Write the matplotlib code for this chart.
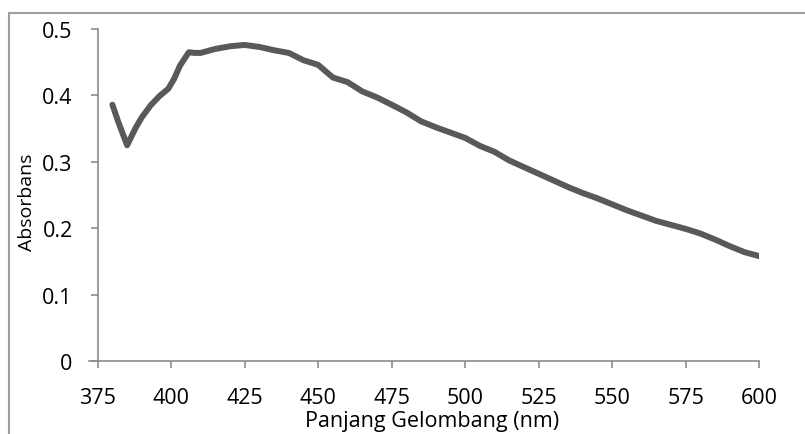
import matplotlib
matplotlib.use('Agg')
import matplotlib.pyplot as plt
from matplotlib.patches import Rectangle

# Absorbance spectrum
wavelength = [380, 382, 385, 388, 390, 393, 396, 399, 401, 403, 406, 408, 410,
              415, 420, 425, 430, 435, 440, 445, 450, 455, 460, 465, 470, 475,
              480, 485, 490, 495, 500, 505, 510, 515, 520, 525, 530, 535, 540,
              545, 550, 555, 560, 565, 570, 575, 580, 585, 590, 595, 600]
absorbans = [0.386, 0.360, 0.325, 0.352, 0.367, 0.385, 0.399, 0.410, 0.425,
             0.445, 0.465, 0.464, 0.464, 0.470, 0.474, 0.476, 0.473, 0.468,
             0.464, 0.453, 0.446, 0.427, 0.420, 0.406, 0.397, 0.386, 0.3745,
             0.361, 0.352, 0.344, 0.336, 0.324, 0.315, 0.302, 0.292, 0.282,
             0.272, 0.262, 0.253, 0.245, 0.236, 0.227, 0.219, 0.211, 0.205,
             0.199, 0.192, 0.183, 0.173, 0.164, 0.158]

x_ticks = [375, 400, 425, 450, 475, 500, 525, 550, 575, 600]
y_ticks = [0, 0.1, 0.2, 0.3, 0.4, 0.5]
y_ticklabels = ['0', '0.1', '0.2', '0.3', '0.4', '0.5']

plt.rcParams['font.family'] = ['Open Sans', 'DejaVu Sans']

fig = plt.figure(figsize=(8.05, 4.35), dpi=100)
ax = fig.add_axes([0.1214, 0.1678, 0.8216, 0.7632])

# outer chart frame (cropped on the right and bottom)
fig.patches.append(Rectangle((9 / 805, -0.05), 1.0, 1 - 14 / 435 + 0.05,
                             transform=fig.transFigure, fill=False,
                             edgecolor='#a0a0a0', linewidth=1.5))

ax.plot(wavelength, absorbans, color='#595959', linewidth=4.3,
        solid_joinstyle='round', solid_capstyle='round')

ax.set_xlim(375, 600)
ax.set_ylim(0, 0.5)
ax.set_xticks(x_ticks)
ax.set_yticks(y_ticks)
ax.set_yticklabels(y_ticklabels)

for side in ['top', 'right']:
    ax.spines[side].set_visible(False)
for side in ['left', 'bottom']:
    ax.spines[side].set_color('#8c8c8c')
    ax.spines[side].set_linewidth(1.2)
ax.spines['bottom'].set_bounds(372, 600)

ax.tick_params(axis='both', direction='out', length=5, width=1.2,
               color='#8c8c8c', labelsize=15.5, labelcolor='black')
ax.tick_params(axis='x', pad=14)
ax.tick_params(axis='y', pad=13)

ax.set_xlabel('Panjang Gelombang (nm)', fontsize=15.5, va='top')
ax.xaxis.set_label_coords(0.5055, -0.148)
ax.set_ylabel('Absorbans', fontsize=14)
ax.yaxis.set_label_coords(-0.093, 0.482)

fig.savefig('out.png', dpi=100)
